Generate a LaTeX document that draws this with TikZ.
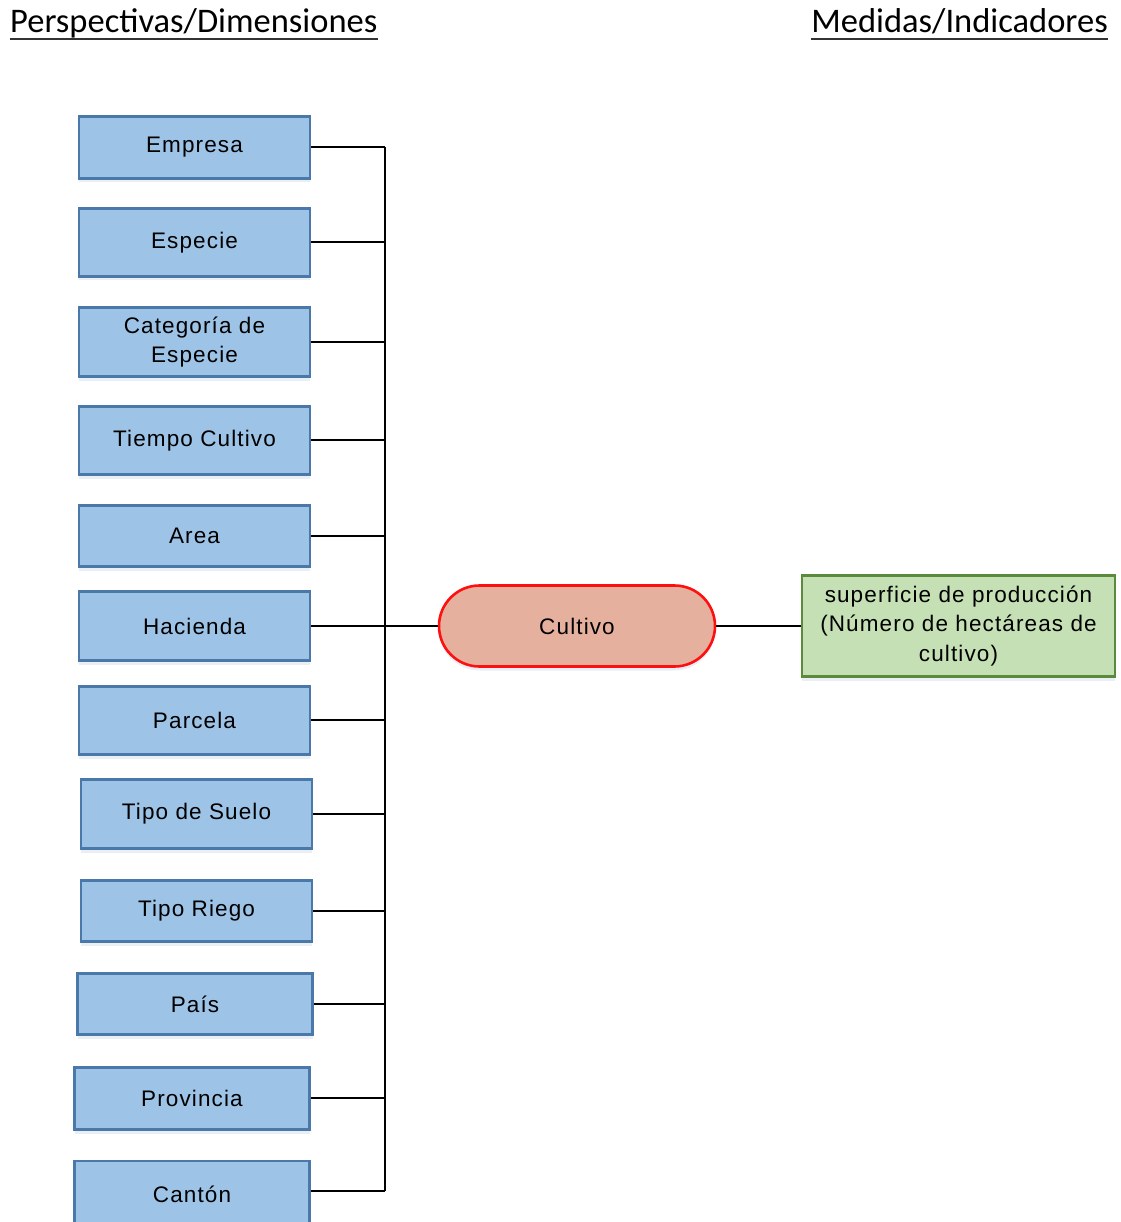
\documentclass[tikz,border=0pt]{standalone}
\usepackage{fontspec}
\setmainfont{Liberation Sans}
\newfontfamily\titlefont{Carlito}
\usetikzlibrary{shapes.misc,shadows}
\definecolor{dimfill}{HTML}{9DC3E6}
\definecolor{dimline}{HTML}{4A78A8}
\definecolor{factfill}{HTML}{E6B09E}
\definecolor{factline}{HTML}{FF1010}
\definecolor{measfill}{HTML}{C5E0B4}
\definecolor{measline}{HTML}{5A8A3A}
\begin{document}
\begin{tikzpicture}[x=1pt,y=-1pt,
  boxfont/.style={font=\addfontfeature{LetterSpace=5}\fontsize{22.5}{29.5}\selectfont},
  dimbox/.style={draw=dimline, line width=2.6pt, fill=dimfill, boxfont,
    minimum width=231pt, minimum height=62pt, inner sep=0pt, align=center,
    drop shadow={opacity=0.12, shadow xshift=0pt, shadow yshift=-4pt, fill=dimline}},
  factbox/.style={draw=factline, line width=2.6pt, fill=factfill, boxfont,
    rounded rectangle, minimum width=276pt, minimum height=81pt, inner sep=0pt,
    drop shadow={opacity=0.12, shadow xshift=0pt, shadow yshift=-4pt, fill=dimline}},
  measbox/.style={draw=measline, line width=2.6pt, fill=measfill, boxfont,
    minimum width=313pt, minimum height=101pt, inner sep=0pt, align=center,
    drop shadow={opacity=0.12, shadow xshift=0pt, shadow yshift=-4pt, fill=dimline}},
  link/.style={draw=black, line width=1.7pt},
  heading/.style={font=\titlefont\fontsize{34.5}{40}\selectfont, inner sep=0pt, anchor=base west}]
\useasboundingbox (0,0) rectangle (1120,1222);

% headings
\node[heading] (hdim) at (10,33) {Perspectivas/Dimensiones};
\node[heading, anchor=base east] (hmeas) at (1108,33) {Medidas/Indicadores};
\draw[line width=2.2pt, black!80] (hdim.base west) ++(0,6) -- ([yshift=-6pt]hdim.base east);
\draw[line width=2.2pt, black!80] (hmeas.base west) ++(0,6) -- ([yshift=-6pt]hmeas.base east);

% dimension boxes
\node[dimbox, minimum height=62pt] (empresa) at (194.5,147.5) {Empresa};
\node[dimbox, minimum height=68pt] (especie) at (194.5,242.5) {Especie};
\node[dimbox, minimum height=69pt] (categoria) at (194.5,342) {Categoría de\\Especie};
\node[dimbox, minimum height=68pt] (tiempo) at (194.5,440.5) {Tiempo Cultivo};
\node[dimbox, minimum height=61pt] (area) at (194.5,536) {Area};
\node[dimbox, minimum height=69pt] (hacienda) at (194.5,626) {Hacienda};
\node[dimbox, minimum height=68pt] (parcela) at (194.5,720.5) {Parcela};
\node[dimbox, minimum height=69pt] (suelo) at (196.5,814) {Tipo de Suelo};
\node[dimbox, minimum height=61pt] (riego) at (196.5,911) {Tipo Riego};
\node[dimbox, minimum height=61pt, minimum width=235pt] (pais) at (195,1004) {País};
\node[dimbox, minimum height=62pt, minimum width=235pt] (provincia) at (192,1098.5) {Provincia};
\node[dimbox, minimum height=66pt, minimum width=235pt] (canton) at (192,1194) {Cantón};

% fact and measure
\node[factbox] (cultivo) at (577,626) {Cultivo};
\node[measbox] (medida) at (958.5,626) {superficie de producción\\(Número de hectáreas de\\cultivo)};

% bus joining every dimension
\coordinate (bustop) at (385,147);
\coordinate (busbot) at (385,1191);
\draw[link] (bustop) -- (busbot);
\foreach \d/\yy in {empresa/147, especie/242, categoria/342, tiempo/440, area/536,
                    hacienda/626, parcela/720, suelo/814, riego/911, pais/1004,
                    provincia/1098, canton/1191}
  \draw[link] (\d.east |- 0,\yy) -- (385,\yy);
\draw[link] (hacienda.east) -- (cultivo.west);
\draw[link] (cultivo.east) -- (medida.west);
\end{tikzpicture}
\end{document}
